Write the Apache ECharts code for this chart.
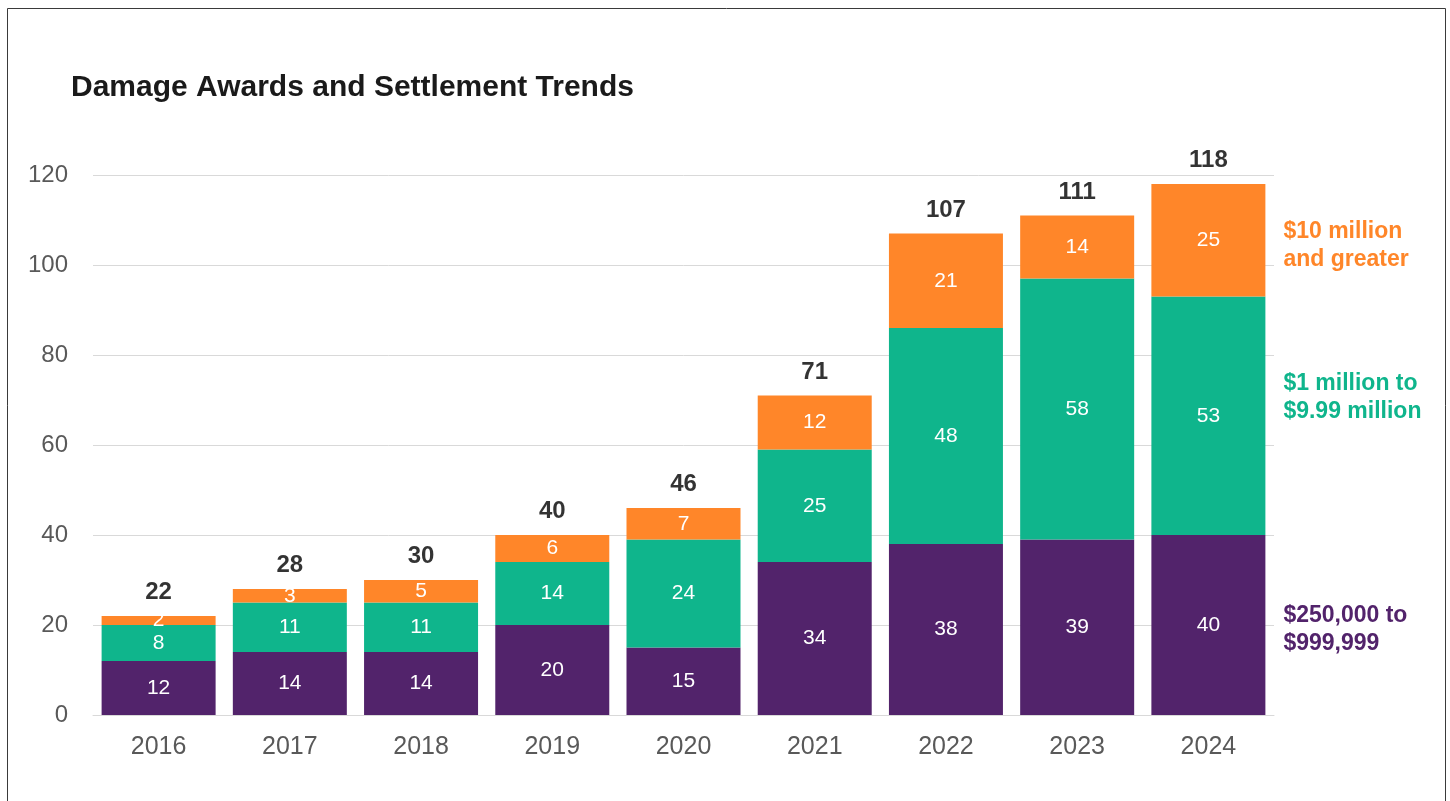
<!DOCTYPE html>
<html>
<head>
<meta charset="utf-8">
<script src="https://cdn.jsdelivr.net/npm/echarts@6/dist/echarts.min.js"></script>
<style>html,body{margin:0;padding:0;background:#fff}#c{width:1450px;height:801px}</style>
</head>
<body>
<div id="c"></div>
<script>
const titleText = 'Damage Awards and Settlement Trends';
const years = ['2016','2017','2018','2019','2020','2021','2022','2023','2024'];
const seriesNames = ['$250,000 to\n$999,999', '$1 million to\n$9.99 million', '$10 million\nand greater'];
const low = [12,14,14,20,15,34,38,39,40];
const mid = [8,11,11,14,24,25,48,58,53];
const high = [2,3,5,6,7,12,21,14,25];
const yTicks = [0,20,40,60,80,100,120];
const colors = ['#52236b','#0fb58c','#ff8629'];
const sideLabelShift = [5, -18, 5];
const FONT = 'Liberation Sans, Arial, sans-serif';

const totals = years.map((_, i) => low[i] + mid[i] + high[i]);
const stacks = [low, mid, high];
const last = years.length - 1;

function seriesFor(k) {
  const data = stacks[k];
  let base = 0;
  for (let j = 0; j < k; j++) base += stacks[j][last];
  const midVal = base + data[last] / 2;
  return {
    name: seriesNames[k],
    type: 'bar',
    stack: 'all',
    barWidth: 114,
    data: data,
    itemStyle: { color: colors[k] },
    label: {
      show: true, position: 'inside', color: '#fff',
      fontFamily: FONT, fontSize: 21
    },
    markPoint: {
      symbol: 'circle', symbolSize: 0, silent: true,
      data: [{ coord: [years[last], midVal] }],
      label: {
        show: true, position: 'right', distance: 75,
        offset: [0, sideLabelShift[k]],
        formatter: seriesNames[k],
        color: colors[k], fontWeight: 'bold', fontSize: 23, lineHeight: 28,
        fontFamily: FONT
      }
    }
  };
}

const chart = echarts.init(document.getElementById('c'));
chart.setOption({
  animation: false,
  backgroundColor: '#fff',
  title: {
    text: titleText, left: 66, top: 68,
    textStyle: { fontFamily: FONT, fontWeight: 'bold', fontSize: 30, color: '#1a1a1a' }
  },
  graphic: [{
    type: 'rect', shape: { x: 7.5, y: 8.5, width: 1438, height: 900 },
    style: { fill: 'none', stroke: '#3a3a3a', lineWidth: 1 }, silent: true
  }],
  grid: { left: 93, right: 176, top: 175, bottom: 86 },
  xAxis: {
    type: 'category', data: years,
    axisTick: { show: false },
    axisLine: { lineStyle: { color: '#d9d9d9', width: 1 } },
    axisLabel: { color: '#595959', fontSize: 25, margin: 20, fontFamily: FONT }
  },
  yAxis: {
    type: 'value', min: yTicks[0], max: yTicks[yTicks.length - 1], interval: 20,
    axisLine: { show: false }, axisTick: { show: false },
    splitLine: { lineStyle: { color: '#d9d9d9', width: 1 } },
    axisLabel: { color: '#595959', fontSize: 24, margin: 25, fontFamily: FONT }
  },
  series: [
    seriesFor(0), seriesFor(1), seriesFor(2),
    {
      name: 'Total', type: 'scatter', data: totals,
      symbol: 'circle', symbolSize: 1, itemStyle: { color: 'rgba(0,0,0,0)' }, silent: true,
      label: {
        show: true, position: 'top', distance: 11,
        color: '#000', fontWeight: 'bold', fontSize: 24,
        fontFamily: FONT
      }
    }
  ]
});
</script>
</body>
</html>
